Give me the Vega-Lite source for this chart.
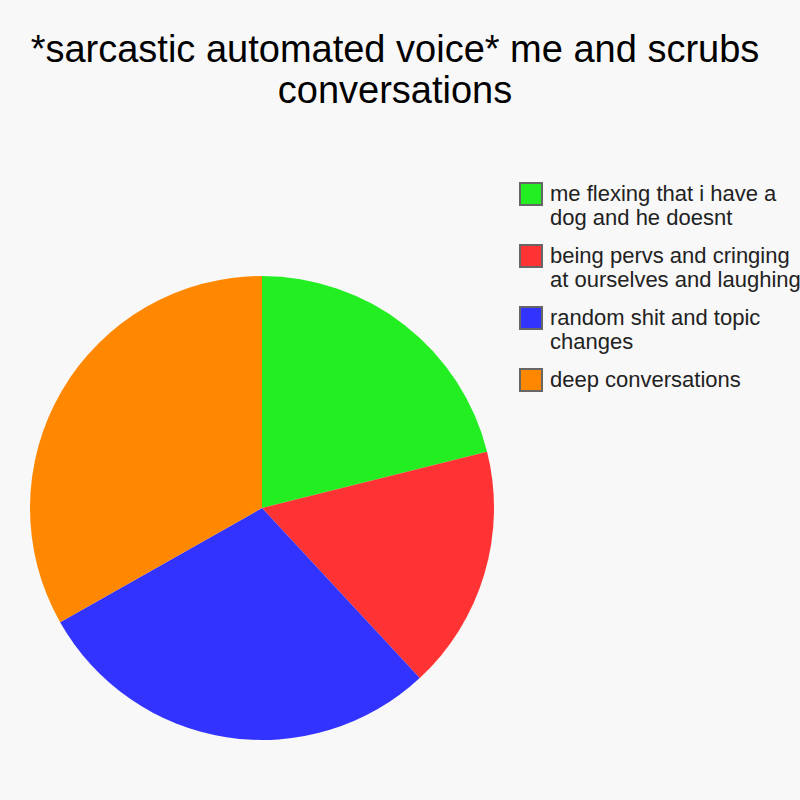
{
  "$schema": "https://vega.github.io/schema/vega-lite/v6.json",
  "autosize": {"type": "none"},
  "padding": {"left": 30, "top": 276, "right": 306, "bottom": 60},
  "width": 464,
  "height": 464,
  "background": "#f8f8f8",
  "title": {
    "text": ["*sarcastic automated voice* me and scrubs ", "conversations"],
    "font": "Liberation Sans",
    "fontSize": 38,
    "fontWeight": "normal",
    "color": "#000000",
    "lineHeight": 41,
    "anchor": "middle",
    "frame": "group",
    "dx": 133,
    "offset": 71
  },
  "data": {
    "values": [
      {"idx": 1, "label": "me flexing that i have a dog and he doesnt", "share": 21.1},
      {"idx": 2, "label": "being pervs and cringing at ourselves and laughing", "share": 17.0},
      {"idx": 3, "label": "random shit and topic changes", "share": 28.7},
      {"idx": 4, "label": "deep conversations", "share": 33.2}
    ]
  },
  "mark": {"type": "arc"},
  "encoding": {
    "theta": {"field": "share", "type": "quantitative", "stack": true},
    "order": {"field": "idx", "type": "quantitative"},
    "color": {
      "field": "label",
      "type": "nominal",
      "sort": null,
      "scale": {
        "domain": [
          "me flexing that i have a dog and he doesnt",
          "being pervs and cringing at ourselves and laughing",
          "random shit and topic changes",
          "deep conversations"
        ],
        "range": ["#22ee22", "#ff3333", "#3333ff", "#ff8800"]
      },
      "legend": {
        "title": null,
        "orient": "none",
        "legendX": 489,
        "legendY": -94,
        "padding": 0,
        "symbolType": "square",
        "symbolSize": 484,
        "symbolStrokeColor": "#666666",
        "symbolStrokeWidth": 2,
        "symbolOpacity": 1,
        "labelFont": "Liberation Sans",
        "labelFontSize": 22,
        "labelColor": "#222222",
        "labelOffset": 7,
        "labelLimit": 400,
        "rowPadding": 12,
        "labelExpr": "datum.label == 'me flexing that i have a dog and he doesnt' ? ['me flexing that i have a', 'dog and he doesnt'] : datum.label == 'being pervs and cringing at ourselves and laughing' ? ['being pervs and cringing', 'at ourselves and laughing'] : datum.label == 'random shit and topic changes' ? ['random shit and topic', 'changes'] : datum.label"
      }
    }
  },
  "config": {
    "view": {"stroke": null}
  }
}
